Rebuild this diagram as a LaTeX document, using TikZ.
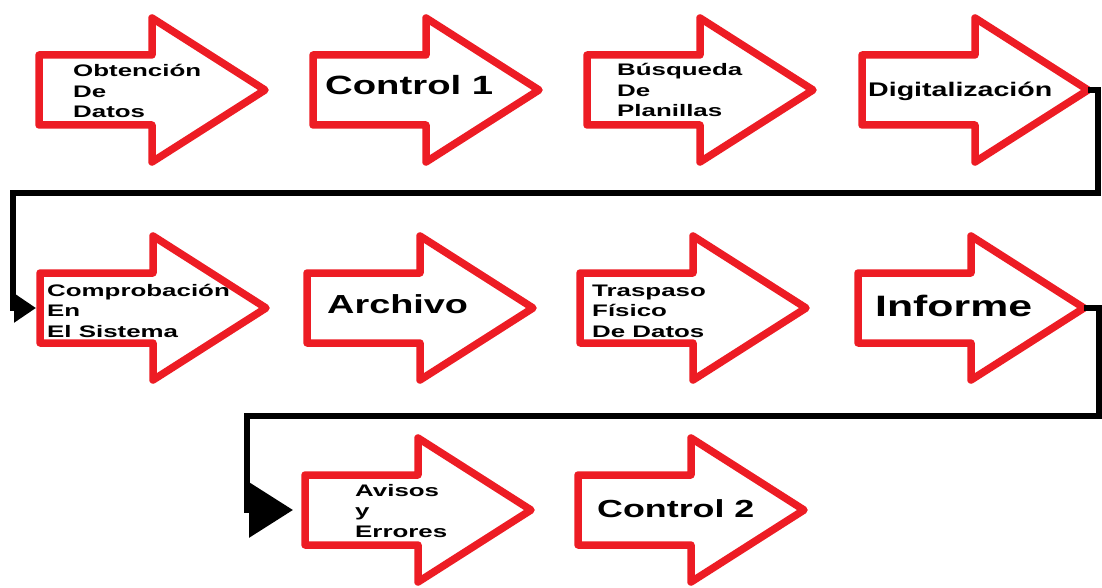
\documentclass[tikz,border=0pt]{standalone}
\usepackage{fontspec}
\setmainfont{Liberation Sans}
\newfontfamily\lblfont{Liberation Sans Bold}[FakeStretch=1.55]
\newfontfamily\bigfont{Liberation Sans Bold}[FakeStretch=1.45]
\usetikzlibrary{arrows.meta}
\definecolor{flowred}{RGB}{237,28,36}
\tikzset{
  arrowline/.style={draw=flowred, line width=7.5pt, line join=round},
  conn/.style={draw=black, line width=6.5pt},
  % multi-line labels are placed by the baseline of their last line
  small/.style={font=\lblfont\fontsize{16.7}{20.5}\selectfont, align=left,
    inner sep=0pt, anchor=base west},
  big/.style={font=\bigfont\fontsize{#1}{#1}\selectfont, inner sep=0pt,
    anchor=base west},
  % block arrow: tail at the origin, tip 226pt to the right
  flowarrow/.pic={
    \draw[arrowline] (0,-35) -- (113,-35) -- (113,-72) -- (226,0)
      -- (113,72) -- (113,35) -- (0,35) -- cycle;
    \coordinate (-tail) at (0,0);
    \coordinate (-tip) at (226,0);
  }
}
\begin{document}
\begin{tikzpicture}[x=1pt, y=-1pt]
  \path[fill=white, use as bounding box] (0,0) rectangle (1102,588);

  % block arrows
  \pic (obt) at (39,90) {flowarrow};
  \pic (ctla) at (313,90) {flowarrow};
  \pic (bus) at (587,90) {flowarrow};
  \pic (dig) at (862,90) {flowarrow};
  \pic (comp) at (40,308) {flowarrow};
  \pic (arc) at (307,308) {flowarrow};
  \pic (tra) at (580,308) {flowarrow};
  \pic (inf) at (858,308) {flowarrow};
  \pic (avi) at (305,510) {flowarrow};
  \pic (ctlb) at (578,510) {flowarrow};

  % turning points of the row connectors
  \coordinate (r1) at (1098,193);
  \coordinate (l1) at (13,193);
  \coordinate (r2) at (1099,416);
  \coordinate (l2) at (247,416);

  \draw[conn, -{Triangle[length=22pt, width=28pt]}, shorten >=4pt]
    (dig-tip) -| (r1) -- (l1) |- (comp-tail);
  \draw[conn, -{Triangle[length=44pt, width=54pt]}, shorten >=12pt]
    (inf-tip) -| (r2) -- (l2) |- (avi-tail);

  % labels
  \node[small] (obt-label) at (73,118) {Obtención\\De\\Datos};
  \node[big=26.4] (ctla-label) at (325,95) {Control 1};
  \node[small] (bus-label) at (617,117) {Búsqueda\\De\\Planillas};
  \node[big=19.7] (dig-label) at (868,97) {Digitalización};
  \node[small] (comp-label) at (47,337) {Comprobación\\En\\El Sistema};
  \node[big=26.1] (arc-label) at (327,313) {Archivo};
  \node[small] (tra-label) at (592,337) {Traspaso\\Físico\\De Datos};
  \node[big=29.5] (inf-label) at (875,316) {Informe};
  \node[small] (avi-label) at (355,537) {Avisos\\y\\Errores};
  \node[big=24.7] (ctlb-label) at (597,517) {Control 2};
\end{tikzpicture}
\end{document}
